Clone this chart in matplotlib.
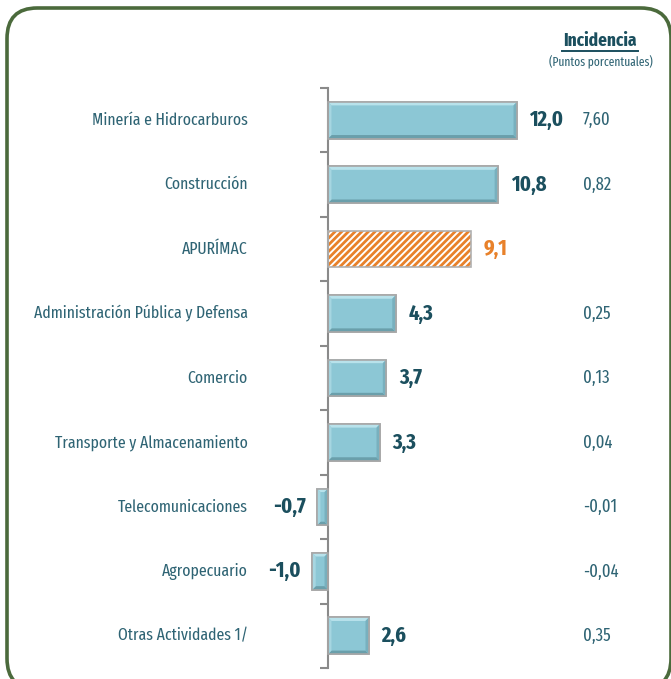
import matplotlib
matplotlib.use("Agg")
import matplotlib.pyplot as plt
from matplotlib.patches import Polygon, FancyBboxPatch
from matplotlib.transforms import blended_transform_factory
import numpy as np

categories = ["Minería e Hidrocarburos", "Construcción", "APURÍMAC",
              "Administración Pública y Defensa", "Comercio",
              "Transporte y Almacenamiento", "Telecomunicaciones",
              "Agropecuario", "Otras Actividades 1/"]
values = [12.0, 10.8, 9.1, 4.3, 3.7, 3.3, -0.7, -1.0, 2.6]
incidencia = ["7,60", "0,82", "", "0,25", "0,13", "0,04", "-0,01", "-0,04", "0,35"]
highlight = "APURÍMAC"

FONT = ["Fira Sans Extra Condensed", "DejaVu Sans"]
plt.rcParams['font.family'] = FONT
plt.rcParams['hatch.linewidth'] = 2.0

CAT_COLOR = "#2f6474"
VAL_COLOR = "#1b4f5e"
ORANGE = "#e8812a"
FACE = "#8cc7d5"

W, H = 671, 679
fig = plt.figure(figsize=(W / 100, H / 100), dpi=100)

# rounded frame
frame = FancyBboxPatch((7 / W, -10 / H), (W + 0 - 7) / W, (H - 8 + 10) / H,
                       boxstyle="round,pad=0,rounding_size=0.045",
                       transform=fig.transFigure, facecolor="none",
                       edgecolor="#4b6a3c", linewidth=2.6, zorder=0)
fig.patches.append(frame)

# axes: x=0 at px 328, 15.75 px per unit; y spans px 88..668
xmin, xmax = -3.0, 21.0
ppu = 15.75
left_px = 328 - (0 - xmin) * ppu
width_px = (xmax - xmin) * ppu
ax = fig.add_axes([left_px / W, 1 - 668 / H, width_px / W, 580 / H])
ax.set_xlim(xmin, xmax)
n = len(categories)
ax.set_ylim(n - 0.5, -0.5)
ax.patch.set_alpha(0)

for s in ["top", "right", "bottom"]:
    ax.spines[s].set_visible(False)
ax.spines["left"].set_position(("data", 0))
ax.spines["left"].set_color("#8a8a8a")
ax.spines["left"].set_linewidth(1.5)
ax.set_xticks([])
ax.set_yticks(np.arange(-0.5, n, 1.0))
ax.set_yticklabels([])
ax.tick_params(axis="y", direction="out", length=6, width=1.5, color="#8a8a8a")

h = 0.57
ys = np.arange(n)
dx, dy = 0.22, 0.055
for y, v, c in zip(ys, values, categories):
    if c == highlight:
        ax.barh(y, v, height=h, color="white", edgecolor=ORANGE, hatch="/////",
                linewidth=0, zorder=2)
        ax.barh(y, v, height=h, color="none", edgecolor="#b0b0b0", linewidth=1.2, zorder=3)
    else:
        ax.barh(y, v, height=h, color=FACE, edgecolor="#a8a8a8", linewidth=1.2, zorder=2)
        x0, x1 = min(0, v), max(0, v)
        yt, yb = y - h / 2, y + h / 2
        polys = [
            ([(x0, yt), (x1, yt), (x1 - dx, yt + dy), (x0 + dx, yt + dy)], "#b8e2eb"),
            ([(x0, yb), (x1, yb), (x1 - dx, yb - dy), (x0 + dx, yb - dy)], "#6a9fab"),
            ([(x0, yt), (x0 + dx, yt + dy), (x0 + dx, yb - dy), (x0, yb)], "#a6d6e1"),
            ([(x1, yt), (x1 - dx, yt + dy), (x1 - dx, yb - dy), (x1, yb)], "#78b0be"),
        ]
        for pts, col in polys:
            ax.add_patch(Polygon(pts, closed=True, facecolor=col, edgecolor="none", zorder=2.5))
        ax.barh(y, v, height=h, color="none", edgecolor="#a8a8a8", linewidth=1.2, zorder=3)

    lab = f"{v:.1f}".replace(".", ",")
    col = ORANGE if c == highlight else VAL_COLOR
    if v >= 0:
        ax.annotate(lab, (v, y), xytext=(9, 0), textcoords="offset points",
                    ha="left", va="center", fontsize=16, fontweight="bold", color=col)
    else:
        ax.annotate(lab, (v, y), xytext=(-8, 0), textcoords="offset points",
                    ha="right", va="center", fontsize=16, fontweight="bold", color=col)

trans = blended_transform_factory(fig.transFigure, ax.transData)
for y, c, inc in zip(ys, categories, incidencia):
    ax.text(248 / W, y, c, transform=trans, ha="right", va="center",
            fontsize=12.3, color=CAT_COLOR)
    if inc:
        ax.text(583 / W, y, inc, transform=trans, ha="left", va="center",
                fontsize=13, color=CAT_COLOR)

fig.text(600 / W, 1 - 41 / H, "Incidencia", ha="center", va="center",
         fontsize=13.5, fontweight="bold", color=VAL_COLOR)
fig.add_artist(plt.Line2D([562 / W, 638 / W], [1 - 51 / H, 1 - 51 / H],
                          transform=fig.transFigure, color=VAL_COLOR, linewidth=1.4))
fig.text(601 / W, 1 - 62 / H, "(Puntos porcentuales)", ha="center", va="center",
         fontsize=9, color=CAT_COLOR)

fig.savefig("out.png", dpi=100)
